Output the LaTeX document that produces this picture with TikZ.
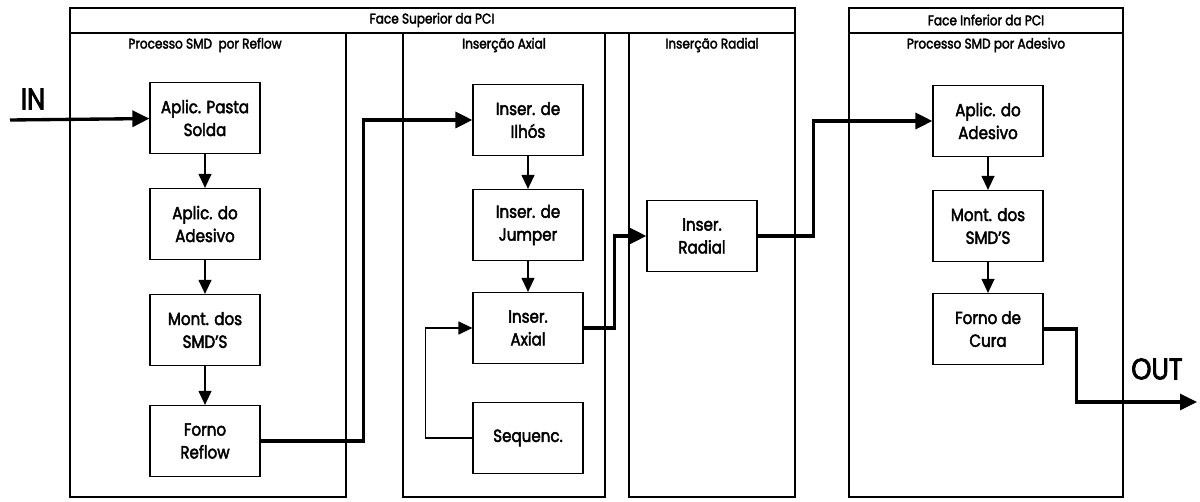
\documentclass[tikz,border=0pt]{standalone}
\usepackage{fontspec}
\setmainfont{Poppins}[FakeStretch=0.86, FakeBold=2.5]
\usetikzlibrary{arrows.meta}
\tikzset{
  frame/.style = {draw=black, line width=0.7pt},
  stage/.style = {rectangle, draw=black, line width=0.7pt, inner sep=1pt,
                  minimum width=2.2cm, minimum height=1.42cm, align=center,
                  font=\fontsize{10}{13}\selectfont},
  title/.style = {font=\fontsize{8}{9}\selectfont},
  tag/.style   = {font=\fontsize{17}{18}\selectfont},
  link/.style  = {-{Triangle[length=2.8mm,width=2.6mm]}, line width=0.7pt},
  flow/.style  = {-{Triangle[length=3.4mm,width=3.2mm]}, line width=1.9pt},
}

\begin{document}
\begin{tikzpicture}[x=0.02cm, y=-0.02cm]
      \useasboundingbox (0,0) rectangle (1200,502);

      % frames
      \draw[frame] (70,8) rectangle (795,33);
      \draw[frame] (70,33) rectangle (346,497);
      \draw[frame] (403,33) rectangle (605,497);
      \draw[frame] (629,33) rectangle (795,497);
      \draw[frame] (849,8) rectangle (1123,33);
      \draw[frame] (849,33) rectangle (1123,497);

      \node[title] (sup)    at (432,20)  {Face Superior da PCI};
      \node[title] (reflowt) at (205,45) {Processo SMD\ \ por Reflow};
      \node[title] (axialt) at (504,45)  {Inserção Axial};
      \node[title] (radialt) at (712,45) {Inserção Radial};
      \node[title] (inf)    at (986,20)  {Face Inferior da PCI};
      \node[title] (adest)  at (986,45)  {Processo SMD por Adesivo};

      % reflow
      \node[stage] (pasta)   at (205,118) {Aplic. Pasta\\Solda};
      \node[stage] (ades)    at (205,224) {Aplic. do\\Adesivo};
      \node[stage] (smd)     at (205,330) {Mont. dos\\SMD'S};
      \node[stage] (reflow)  at (205,441) {Forno\\Reflow};

      % axial
      \node[stage] (ilhos)   at (528,120) {Inser. de\\Ilhós};
      \node[stage] (jumper)  at (528,225) {Inser. de\\Jumper};
      \node[stage] (axial)   at (528,328) {Inser.\\Axial};
      \node[stage] (seq)     at (528,438) {Sequenc.};

      % radial
      \node[stage] (radial)  at (702,236) {Inser.\\Radial};

      % adesivo
      \node[stage] (adesinf) at (988,121) {Aplic. do\\Adesivo};
      \node[stage] (smdinf)  at (988,226) {Mont. dos\\SMD'S};
      \node[stage] (cura)    at (988,329) {Forno de\\Cura};

      \node[tag] (intag)  at (33,99)   {IN};
      \node[tag] (outtag) at (1157,369) {OUT};
      \coordinate (in)  at (10,120);
      \coordinate (out) at (1197,402);

      \draw[flow] (in) -- (pasta);
      \draw[link] (pasta) -- (ades);
      \draw[link] (ades) -- (smd);
      \draw[link] (smd) -- (reflow);
      \draw[flow] (reflow.east) -- ++(103,0) |- (ilhos.west);
      \draw[link] (ilhos) -- (jumper);
      \draw[link] (jumper) -- (axial);
      \draw[link] (seq.west) -- ++(-47,0) |- (axial.west);
      \draw[flow] (axial.east) -- ++(31,0) |- (radial.west);
      \draw[flow] (radial.east) -- ++(56,0) |- (adesinf.west);
      \draw[link] (adesinf) -- (smdinf);
      \draw[link] (smdinf) -- (cura);
      \draw[flow] (cura.east) -- ++(33,0) |- (out);
    \end{tikzpicture}
\end{document}
